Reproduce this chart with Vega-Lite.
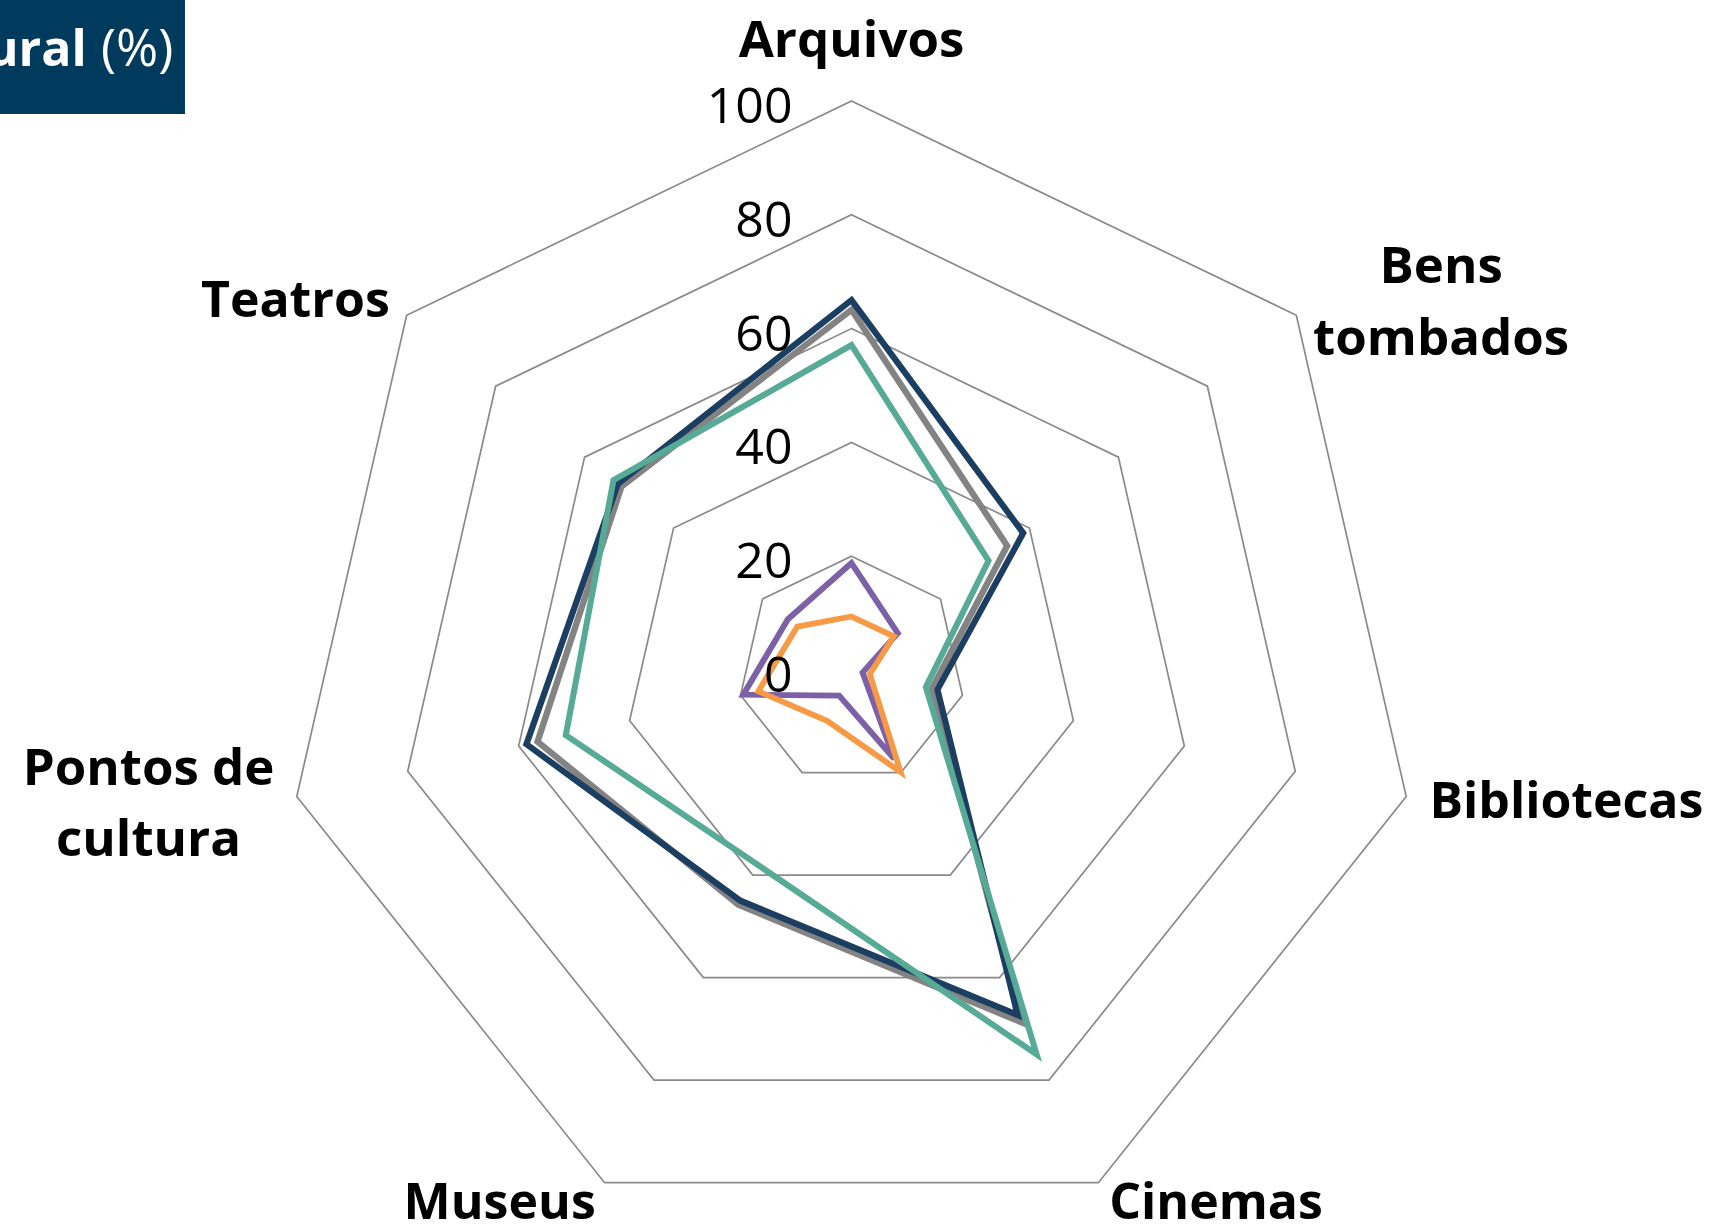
{
  "$schema": "https://vega.github.io/schema/vega-lite/v6.json",
  "width": 1713,
  "height": 1227,
  "padding": 0,
  "autosize": {"type": "none"},
  "background": "white",
  "config": {"view": {"stroke": null}, "font": "Open Sans"},
  "datasets": {
    "series": [
      {"serie": "Série 2", "eixo": "Arquivos", "idx": 0, "valor": 63.3},
      {"serie": "Série 2", "eixo": "Bens tombados", "idx": 1, "valor": 35.0},
      {"serie": "Série 2", "eixo": "Bibliotecas", "idx": 2, "valor": 14.5},
      {"serie": "Série 2", "eixo": "Cinemas", "idx": 3, "valor": 68.7},
      {"serie": "Série 2", "eixo": "Museus", "idx": 4, "valor": 45.8},
      {"serie": "Série 2", "eixo": "Pontos de cultura", "idx": 5, "valor": 56.6},
      {"serie": "Série 2", "eixo": "Teatros", "idx": 6, "valor": 51.7},
      {"serie": "Série 1", "eixo": "Arquivos", "idx": 0, "valor": 65.0},
      {"serie": "Série 1", "eixo": "Bens tombados", "idx": 1, "valor": 38.6},
      {"serie": "Série 1", "eixo": "Bibliotecas", "idx": 2, "valor": 15.5},
      {"serie": "Série 1", "eixo": "Cinemas", "idx": 3, "valor": 67.3},
      {"serie": "Série 1", "eixo": "Museus", "idx": 4, "valor": 45.0},
      {"serie": "Série 1", "eixo": "Pontos de cultura", "idx": 5, "valor": 58.6},
      {"serie": "Série 1", "eixo": "Teatros", "idx": 6, "valor": 52.5},
      {"serie": "Série 3", "eixo": "Arquivos", "idx": 0, "valor": 57.1},
      {"serie": "Série 3", "eixo": "Bens tombados", "idx": 1, "valor": 30.8},
      {"serie": "Série 3", "eixo": "Bibliotecas", "idx": 2, "valor": 13.4},
      {"serie": "Série 3", "eixo": "Cinemas", "idx": 3, "valor": 75.0},
      {"serie": "Série 3", "eixo": "Museus", "idx": 4, "valor": 38.0},
      {"serie": "Série 3", "eixo": "Pontos de cultura", "idx": 5, "valor": 51.5},
      {"serie": "Série 3", "eixo": "Teatros", "idx": 6, "valor": 53.5},
      {"serie": "Série 4", "eixo": "Arquivos", "idx": 0, "valor": 18.8},
      {"serie": "Série 4", "eixo": "Bens tombados", "idx": 1, "valor": 10.4},
      {"serie": "Série 4", "eixo": "Bibliotecas", "idx": 2, "valor": 2.0},
      {"serie": "Série 4", "eixo": "Cinemas", "idx": 3, "valor": 17.3},
      {"serie": "Série 4", "eixo": "Museus", "idx": 4, "valor": 5.0},
      {"serie": "Série 4", "eixo": "Pontos de cultura", "idx": 5, "valor": 19.5},
      {"serie": "Série 4", "eixo": "Teatros", "idx": 6, "valor": 14.3},
      {"serie": "Série 5", "eixo": "Arquivos", "idx": 0, "valor": 9.4},
      {"serie": "Série 5", "eixo": "Bens tombados", "idx": 1, "valor": 9.5},
      {"serie": "Série 5", "eixo": "Bibliotecas", "idx": 2, "valor": 3.3},
      {"serie": "Série 5", "eixo": "Cinemas", "idx": 3, "valor": 19.9},
      {"serie": "Série 5", "eixo": "Museus", "idx": 4, "valor": 9.9},
      {"serie": "Série 5", "eixo": "Pontos de cultura", "idx": 5, "valor": 16.8},
      {"serie": "Série 5", "eixo": "Teatros", "idx": 6, "valor": 12.2}
    ],
    "grade": [
      {"nivel": 20, "idx": 0}, {"nivel": 20, "idx": 1}, {"nivel": 20, "idx": 2}, {"nivel": 20, "idx": 3}, {"nivel": 20, "idx": 4}, {"nivel": 20, "idx": 5}, {"nivel": 20, "idx": 6},
      {"nivel": 40, "idx": 0}, {"nivel": 40, "idx": 1}, {"nivel": 40, "idx": 2}, {"nivel": 40, "idx": 3}, {"nivel": 40, "idx": 4}, {"nivel": 40, "idx": 5}, {"nivel": 40, "idx": 6},
      {"nivel": 60, "idx": 0}, {"nivel": 60, "idx": 1}, {"nivel": 60, "idx": 2}, {"nivel": 60, "idx": 3}, {"nivel": 60, "idx": 4}, {"nivel": 60, "idx": 5}, {"nivel": 60, "idx": 6},
      {"nivel": 80, "idx": 0}, {"nivel": 80, "idx": 1}, {"nivel": 80, "idx": 2}, {"nivel": 80, "idx": 3}, {"nivel": 80, "idx": 4}, {"nivel": 80, "idx": 5}, {"nivel": 80, "idx": 6},
      {"nivel": 100, "idx": 0}, {"nivel": 100, "idx": 1}, {"nivel": 100, "idx": 2}, {"nivel": 100, "idx": 3}, {"nivel": 100, "idx": 4}, {"nivel": 100, "idx": 5}, {"nivel": 100, "idx": 6}
    ],
    "ticks": [
      {"nivel": 0}, {"nivel": 20}, {"nivel": 40}, {"nivel": 60}, {"nivel": 80}, {"nivel": 100}
    ],
    "eixos": [
      {"eixo": "Arquivos", "idx": 0},
      {"eixo": "Bens\ntombados", "idx": 1},
      {"eixo": "Bibliotecas", "idx": 2},
      {"eixo": "Cinemas", "idx": 3},
      {"eixo": "Museus", "idx": 4},
      {"eixo": "Pontos de\ncultura", "idx": 5},
      {"eixo": "Teatros", "idx": 6}
    ]
  },
  "layer": [
    {
      "data": {"name": "grade"},
      "transform": [
        {"calculate": "datum.idx * 2 * PI / 7", "as": "ang"},
        {"calculate": "datum.nivel * sin(datum.ang)", "as": "gx"},
        {"calculate": "datum.nivel * cos(datum.ang)", "as": "gy"}
      ],
      "mark": {"type": "line", "interpolate": "linear-closed", "stroke": "#8a8a8a", "strokeWidth": 1.7},
      "encoding": {
        "x": {"field": "gx", "type": "quantitative", "scale": {"domain": [-149.65, 151.41], "nice": false, "zero": false}, "axis": null},
        "y": {"field": "gy", "type": "quantitative", "scale": {"domain": [-97.89, 117.75], "nice": false, "zero": false}, "axis": null},
        "detail": {"field": "nivel", "type": "nominal"},
        "order": {"field": "idx", "type": "quantitative"}
      }
    },
    {
      "data": {"name": "series"},
      "transform": [
        {"calculate": "datum.idx * 2 * PI / 7", "as": "ang"},
        {"calculate": "datum.valor * sin(datum.ang)", "as": "sx"},
        {"calculate": "datum.valor * cos(datum.ang)", "as": "sy"}
      ],
      "mark": {"type": "line", "interpolate": "linear-closed", "strokeJoin": "miter", "strokeCap": "butt"},
      "encoding": {
        "x": {"field": "sx", "type": "quantitative", "scale": {"domain": [-149.65, 151.41], "nice": false, "zero": false}, "axis": null},
        "y": {"field": "sy", "type": "quantitative", "scale": {"domain": [-97.89, 117.75], "nice": false, "zero": false}, "axis": null},
        "color": {"field": "serie", "type": "nominal", "legend": null, "sort": null,
          "scale": {"domain": ["Série 2", "Série 1", "Série 3", "Série 4", "Série 5"], "range": ["#838383", "#1b3e61", "#56aa96", "#7d61a6", "#f79a46"]}},
        "strokeWidth": {"field": "serie", "type": "nominal", "legend": null,
          "scale": {"domain": ["Série 2", "Série 1", "Série 3", "Série 4", "Série 5"], "range": [6.3, 5.8, 5.2, 4.8, 4.8]}},
        "order": {"field": "idx", "type": "quantitative"}
      }
    },
    {
      "data": {"name": "ticks"},
      "mark": {"type": "text", "align": "right", "baseline": "middle", "dx": -59, "dy": 7, "font": "Open Sans", "fontSize": 50, "color": "#000000"},
      "encoding": {
        "x": {"datum": 0, "type": "quantitative", "scale": {"domain": [-149.65, 151.41], "nice": false, "zero": false}, "axis": null},
        "y": {"field": "nivel", "type": "quantitative", "scale": {"domain": [-97.89, 117.75], "nice": false, "zero": false}, "axis": null},
        "text": {"field": "nivel", "type": "quantitative"}
      }
    },
    {
      "data": {"name": "eixos"},
      "transform": [
        {"filter": "datum.idx == 0"},
        {"calculate": "datum.idx * 2 * PI / 7", "as": "ang"},
        {"calculate": "104 * sin(datum.ang)", "as": "lx"},
        {"calculate": "104 * cos(datum.ang)", "as": "ly"}
      ],
      "mark": {"type": "text", "align": "center", "baseline": "alphabetic", "dy": -21, "font": "Open Sans", "fontWeight": "bold", "fontSize": 51, "color": "#000000"},
      "encoding": {
        "x": {"field": "lx", "type": "quantitative", "scale": {"domain": [-149.65, 151.41], "nice": false, "zero": false}, "axis": null},
        "y": {"field": "ly", "type": "quantitative", "scale": {"domain": [-97.89, 117.75], "nice": false, "zero": false}, "axis": null},
        "text": {"field": "eixo", "type": "nominal"}
      }
    },
    {
      "data": {"name": "eixos"},
      "transform": [
        {"filter": "datum.idx == 2 || datum.idx == 3"},
        {"calculate": "datum.idx * 2 * PI / 7", "as": "ang"},
        {"calculate": "104 * sin(datum.ang)", "as": "lx"},
        {"calculate": "104 * cos(datum.ang)", "as": "ly"}
      ],
      "mark": {"type": "text", "align": "left", "baseline": "middle", "dx": 1, "dy": 1, "font": "Open Sans", "fontWeight": "bold", "fontSize": 50, "color": "#000000"},
      "encoding": {
        "x": {"field": "lx", "type": "quantitative", "scale": {"domain": [-149.65, 151.41], "nice": false, "zero": false}, "axis": null},
        "y": {"field": "ly", "type": "quantitative", "scale": {"domain": [-97.89, 117.75], "nice": false, "zero": false}, "axis": null},
        "text": {"field": "eixo", "type": "nominal"}
      }
    },
    {
      "data": {"name": "eixos"},
      "transform": [
        {"filter": "datum.idx == 4 || datum.idx == 6"},
        {"calculate": "datum.idx * 2 * PI / 7", "as": "ang"},
        {"calculate": "104 * sin(datum.ang)", "as": "lx"},
        {"calculate": "104 * cos(datum.ang)", "as": "ly"}
      ],
      "mark": {"type": "text", "align": "right", "baseline": "middle", "dx": 1, "dy": 1, "font": "Open Sans", "fontWeight": "bold", "fontSize": 50, "color": "#000000"},
      "encoding": {
        "x": {"field": "lx", "type": "quantitative", "scale": {"domain": [-149.65, 151.41], "nice": false, "zero": false}, "axis": null},
        "y": {"field": "ly", "type": "quantitative", "scale": {"domain": [-97.89, 117.75], "nice": false, "zero": false}, "axis": null},
        "text": {"field": "eixo", "type": "nominal"}
      }
    },
    {
      "data": {"name": "eixos"},
      "transform": [
        {"filter": "datum.idx == 1"},
        {"calculate": "datum.idx * 2 * PI / 7", "as": "ang"},
        {"calculate": "104 * sin(datum.ang)", "as": "lx"},
        {"calculate": "104 * cos(datum.ang)", "as": "ly"}
      ],
      "mark": {"type": "text", "align": "center", "baseline": "middle", "lineBreak": "\n", "lineHeight": 72, "dx": 127, "dy": -33, "font": "Open Sans", "fontWeight": "bold", "fontSize": 51, "color": "#000000"},
      "encoding": {
        "x": {"field": "lx", "type": "quantitative", "scale": {"domain": [-149.65, 151.41], "nice": false, "zero": false}, "axis": null},
        "y": {"field": "ly", "type": "quantitative", "scale": {"domain": [-97.89, 117.75], "nice": false, "zero": false}, "axis": null},
        "text": {"field": "eixo", "type": "nominal"}
      }
    },
    {
      "data": {"name": "eixos"},
      "transform": [
        {"filter": "datum.idx == 5"},
        {"calculate": "datum.idx * 2 * PI / 7", "as": "ang"},
        {"calculate": "104 * sin(datum.ang)", "as": "lx"},
        {"calculate": "104 * cos(datum.ang)", "as": "ly"}
      ],
      "mark": {"type": "text", "align": "center", "baseline": "middle", "lineBreak": "\n", "lineHeight": 71, "dx": -126, "dy": -32, "font": "Open Sans", "fontWeight": "bold", "fontSize": 51, "color": "#000000"},
      "encoding": {
        "x": {"field": "lx", "type": "quantitative", "scale": {"domain": [-149.65, 151.41], "nice": false, "zero": false}, "axis": null},
        "y": {"field": "ly", "type": "quantitative", "scale": {"domain": [-97.89, 117.75], "nice": false, "zero": false}, "axis": null},
        "text": {"field": "eixo", "type": "nominal"}
      }
    },
    {
      "data": {"values": [{"caixa": "titulo"}]},
      "mark": {"type": "rect", "color": "#003a5d"},
      "encoding": {
        "x": {"datum": -149.65, "type": "quantitative", "scale": {"domain": [-149.65, 151.41], "nice": false, "zero": false}, "axis": null},
        "x2": {"datum": -117.14},
        "y": {"datum": 117.75, "type": "quantitative", "scale": {"domain": [-97.89, 117.75], "nice": false, "zero": false}, "axis": null},
        "y2": {"datum": 97.71}
      }
    },
    {
      "data": {"values": [{"t": "ural"}]},
      "mark": {"type": "text", "align": "right", "baseline": "alphabetic", "font": "Open Sans", "fontWeight": "bold", "fontSize": 50, "color": "#ffffff"},
      "encoding": {
        "x": {"datum": -134.4, "type": "quantitative", "scale": {"domain": [-149.65, 151.41], "nice": false, "zero": false}, "axis": null},
        "y": {"datum": 106.15, "type": "quantitative", "scale": {"domain": [-97.89, 117.75], "nice": false, "zero": false}, "axis": null},
        "text": {"field": "t", "type": "nominal"}
      }
    },
    {
      "data": {"values": [{"t": "(%)"}]},
      "mark": {"type": "text", "align": "left", "baseline": "alphabetic", "font": "Open Sans", "fontSize": 51, "color": "#ffffff"},
      "encoding": {
        "x": {"datum": -131.9, "type": "quantitative", "scale": {"domain": [-149.65, 151.41], "nice": false, "zero": false}, "axis": null},
        "y": {"datum": 106.15, "type": "quantitative", "scale": {"domain": [-97.89, 117.75], "nice": false, "zero": false}, "axis": null},
        "text": {"field": "t", "type": "nominal"}
      }
    }
  ]
}
